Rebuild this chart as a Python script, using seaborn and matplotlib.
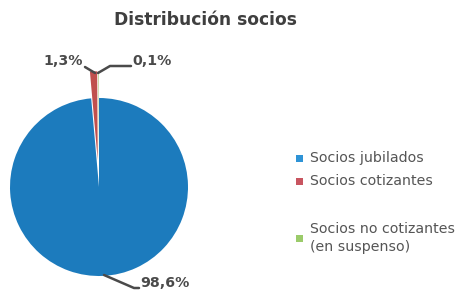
import matplotlib
matplotlib.use("Agg")
import matplotlib.pyplot as plt
import seaborn as sns
import numpy as np
from matplotlib.patches import Rectangle

sns.set_theme(style="white")
plt.rcParams['font.family'] = ['DejaVu Sans']

categories = ["Socios jubilados", "Socios cotizantes", "Socios no cotizantes\n(en suspenso)"]
values = [98.6, 1.3, 0.1]
colors = ["#1C7BBD", "#C0504D", "#9BBB59"]
legend_colors = ["#2E93D6", "#C85560", "#9BCB6A"]
title = "Distribución socios"

W, H = 461, 294
fig = plt.figure(figsize=(W / 100, H / 100), dpi=100)
fig.patch.set_facecolor("white")

# pie axes: center (99,187) px, radius 89 px
cx, cy, r = 99, 187, 89
ax = fig.add_axes([(cx - r) / W, (H - cy - r) / H, 2 * r / W, 2 * r / H])
wedges, _ = ax.pie(values, colors=colors, startangle=90, counterclock=False,
                   explode=[0, 0.3, 0.3], radius=1,
                   wedgeprops=dict(linewidth=0))
ax.set_xlim(-1, 1)
ax.set_ylim(-1, 1)
ax.set_aspect("equal")
ax.axis("off")
for w in wedges:
    w.set_clip_on(False)

def d(px, py):
    return ((px - cx) / r, (cy - py) / r)

lab = [f"{v:.1f}%".replace(".", ",") for v in values]
lc = "#4A4A4A"
tkw = dict(fontsize=10.2, fontweight="bold", color="#4A4A4A", va="center", clip_on=False)

# 98,6%
x0, y0 = d(104, 275); x1, y1 = d(134, 288); x2, y2 = d(139, 288)
ax.plot([x0, x1, x2], [y0, y1, y2], color=lc, lw=1.8, clip_on=False)
ax.text(*d(140, 283), lab[0], ha="left", **tkw)
# 1,3%
x0, y0 = d(95, 73); x1, y1 = d(85, 67)
ax.plot([x0, x1], [y0, y1], color=lc, lw=1.8, clip_on=False)
ax.text(*d(83, 61), lab[1], ha="right", **tkw)
# 0,1%
x0, y0 = d(98, 73); x1, y1 = d(110, 66); x2, y2 = d(131, 66)
ax.plot([x0, x1, x2], [y0, y1, y2], color=lc, lw=1.8, clip_on=False)
ax.text(*d(132, 61), lab[2], ha="left", **tkw)

fig.text(205 / W, 1 - 20 / H, title, ha="center", va="center",
         fontsize=12.3, fontweight="bold", color="#3F3F3F")

# legend
ys = [158, 181, 238]
for cat, col, y in zip(categories, legend_colors, ys):
    fig.patches.append(Rectangle(((296) / W, 1 - (y + 4) / H), 7 / W, 7 / H,
                                 transform=fig.transFigure, facecolor=col,
                                 edgecolor="none"))
    fig.text(310 / W, 1 - y / H, cat, ha="left", va="center",
             fontsize=10.2, color="#555555", linespacing=1.35)

fig.savefig("out.png", dpi=100, facecolor="white")
